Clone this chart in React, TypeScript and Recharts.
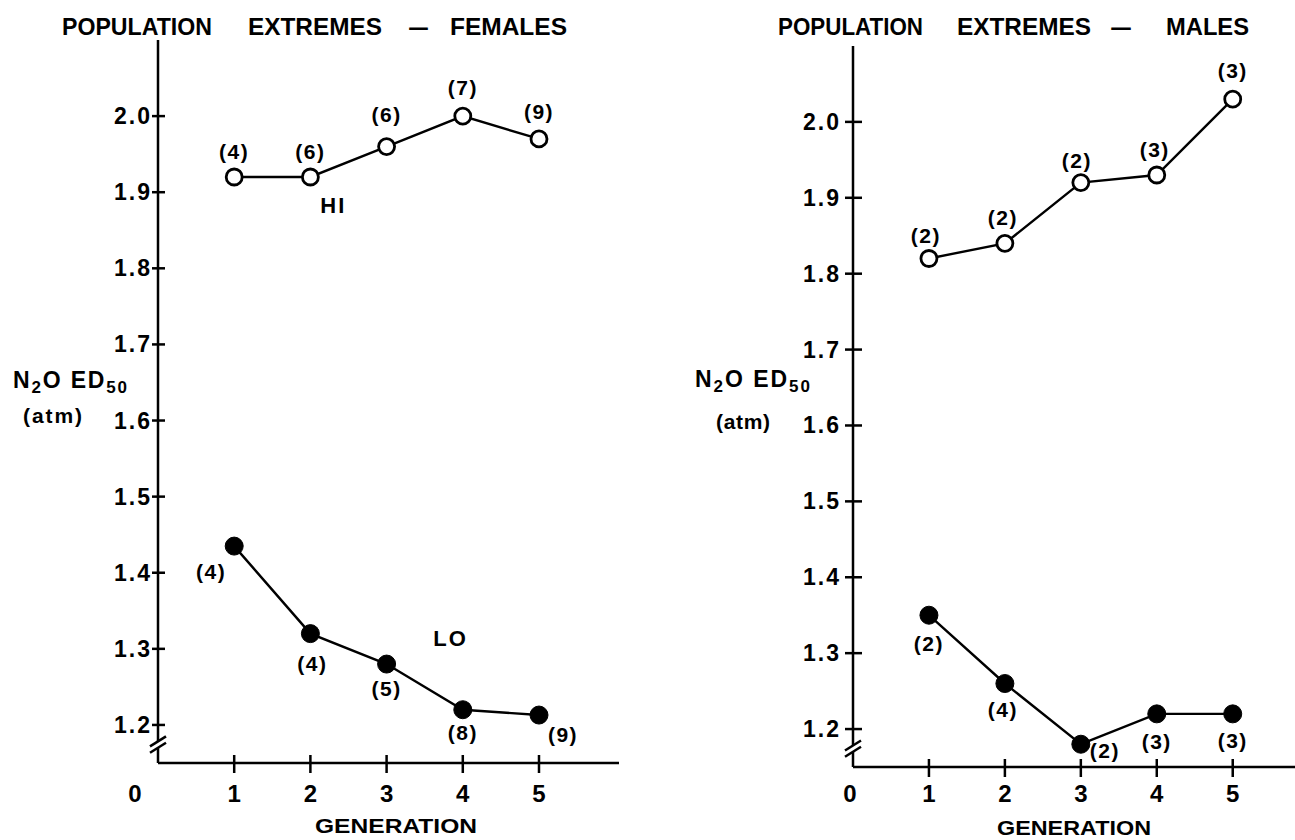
import React from 'react';
import { LineChart, Line, XAxis, YAxis, LabelList, ReferenceDot } from 'recharts';

// ---------- data ----------
const generations = [1, 2, 3, 4, 5];
const femaleHi = [1.92, 1.92, 1.96, 2.0, 1.97];
const femaleLo = [1.435, 1.32, 1.28, 1.22, 1.213];
const femaleHiN = [4, 6, 6, 7, 9];
const femaleLoN = [4, 4, 5, 8, 9];
const maleHi = [1.82, 1.84, 1.92, 1.93, 2.03];
const maleLo = [1.35, 1.26, 1.18, 1.22, 1.22];
const maleHiN = [2, 2, 2, 3, 3];
const maleLoN = [2, 4, 2, 3, 3];
const yTicks = [1.2, 1.3, 1.4, 1.5, 1.6, 1.7, 1.8, 1.9, 2.0];
const xTicks = [0, 1, 2, 3, 4, 5];
const AXIS_BREAK = 1.174;
const HI_LABEL = { x: 2.3, y: 1.882 };
const LO_LABEL = { x: 3.84, y: 1.3135 };

// ---------- style / layout ----------
const FONT = '"Liberation Sans", Arial, sans-serif';
const femaleHiOff = [[0, -25], [0, -25], [0, -32], [0, -29], [0, -27]];
const femaleLoOff = [[-23, 25], [2, 30], [0, 24], [0, 23], [24, 19]];
const maleHiOff = [[-3, -23], [-2, -26], [-4, -22], [-2, -26], [0, -29]];
const maleLoOff = [[0, 28], [-2, 26], [24, 6], [0, 28], [0, 27]];

const femaleRows = generations.map((g, i) => ({
  gen: g, hi: femaleHi[i], lo: femaleLo[i], hiN: femaleHiN[i], loN: femaleLoN[i],
}));
const maleRows = generations.map((g, i) => ({
  gen: g, hi: maleHi[i], lo: maleLo[i], hiN: maleHiN[i], loN: maleLoN[i],
}));

type Panel = {
  left: number; width: number; yAxisWidth: number; marginTop: number; marginRight: number;
  xAxisHeight: number; xMax: number; yLabelGap: number; yTickL: number; yTickR: number;
  xLabelDy: number; zeroDx: number;
};

const leftPanel: Panel = {
  left: 0, width: 650, yAxisWidth: 158, marginTop: 40, marginRight: 31, xAxisHeight: 77,
  xMax: 6.05, yLabelGap: 6, yTickL: 6, yTickR: 7, xLabelDy: 30, zeroDx: -23,
};
const rightPanel: Panel = {
  left: 645, width: 650, yAxisWidth: 208, marginTop: 46, marginRight: 0, xAxisHeight: 73,
  xMax: 5.82, yLabelGap: 12, yTickL: 8, yTickR: 9, xLabelDy: 26, zeroDx: -3,
};

const makeYTick = (p: Panel) => (props: any) => {
  const { x, y, payload } = props;
  if (payload.value === AXIS_BREAK) {
    return (
      <g>
        <polygon points={`${x - 8},${y + 1.7} ${x + 8},${y - 8.3} ${x + 8},${y - 2} ${x - 8},${y + 8}`} fill="#fff" />
        <line x1={x - 8} y1={y + 1.7} x2={x + 8} y2={y - 8.3} stroke="#000" strokeWidth={2.5} />
        <line x1={x - 8} y1={y + 8} x2={x + 8} y2={y - 2} stroke="#000" strokeWidth={2.5} />
      </g>
    );
  }
  return (
    <g>
      <line x1={x - p.yTickL} y1={y} x2={x + p.yTickR} y2={y} stroke="#000" strokeWidth={2.5} />
      <text x={x - p.yLabelGap} y={y} textAnchor="end" dominantBaseline="central"
        fontFamily={FONT} fontWeight="bold" fontSize={23} letterSpacing={2} fill="#000">
        {Number(payload.value).toFixed(1)}
      </text>
    </g>
  );
};

const makeXTick = (p: Panel) => (props: any) => {
  const { x, y, payload } = props;
  if (payload.value === 0) {
    return (
      <text x={x + p.zeroDx} y={y + p.xLabelDy} textAnchor="middle" dominantBaseline="central"
        fontFamily={FONT} fontWeight="bold" fontSize={24} fill="#000">0</text>
    );
  }
  return (
    <g>
      <line x1={x} y1={y - 8} x2={x} y2={y + 10} stroke="#000" strokeWidth={2.5} />
      <text x={x} y={y + p.xLabelDy} textAnchor="middle" dominantBaseline="central"
        fontFamily={FONT} fontWeight="bold" fontSize={24} fill="#000">{payload.value}</text>
    </g>
  );
};

const makeCount = (offs: number[][]) => (props: any) => {
  const { x, y, value, index } = props;
  const o = offs[index] || [0, 0];
  return (
    <text x={x + o[0]} y={y + o[1]} textAnchor="middle" dominantBaseline="central"
      fontFamily={FONT} fontWeight="bold" fontSize={21} letterSpacing={1.5} fill="#000">
      ({value})
    </text>
  );
};

const wordLabel = (text: string) => (props: any) => (
  <text x={props.cx} y={props.cy} textAnchor="middle" dominantBaseline="central"
    fontFamily={FONT} fontWeight="bold" fontSize={22} letterSpacing={2} fill="#000">{text}</text>
);

function PanelChart({ p, rows, hiOff, loOff, showHiLo }: { p: Panel; rows: any[]; hiOff: number[][]; loOff: number[][]; showHiLo: boolean }) {
  return (
    <div style={{ position: 'absolute', left: p.left, top: 0 }}>
      <LineChart width={p.width} height={840} data={rows}
        margin={{ top: p.marginTop, right: p.marginRight, bottom: 0, left: 0 }}>
        <XAxis type="number" dataKey="gen" domain={[0, p.xMax]} ticks={xTicks} interval={0}
          height={p.xAxisHeight} tickSize={0} tickMargin={0} tickLine={false}
          axisLine={{ stroke: '#000', strokeWidth: 2.5 }} tick={makeXTick(p)} allowDataOverflow />
        <YAxis type="number" domain={[1.15, 2.1]} ticks={[AXIS_BREAK, ...yTicks]} interval={0}
          width={p.yAxisWidth} tickSize={0} tickMargin={0} tickLine={false}
          axisLine={{ stroke: '#000', strokeWidth: 2.5 }} tick={makeYTick(p)} allowDataOverflow />
        <Line type="linear" dataKey="hi" stroke="#000" strokeWidth={2.4} isAnimationActive={false}
          dot={{ r: 8, fill: '#fff', stroke: '#000', strokeWidth: 2.8 }} activeDot={false}>
          <LabelList dataKey="hiN" content={makeCount(hiOff)} />
        </Line>
        <Line type="linear" dataKey="lo" stroke="#000" strokeWidth={2.4} isAnimationActive={false}
          dot={{ r: 9, fill: '#000', stroke: '#000', strokeWidth: 1 }} activeDot={false}>
          <LabelList dataKey="loN" content={makeCount(loOff)} />
        </Line>
        {showHiLo && <ReferenceDot x={HI_LABEL.x} y={HI_LABEL.y} r={0} shape={wordLabel('HI')} />}
        {showHiLo && <ReferenceDot x={LO_LABEL.x} y={LO_LABEL.y} r={0} shape={wordLabel('LO')} />}
      </LineChart>
    </div>
  );
}

const titleWords = [
  { t: 'POPULATION', x: 62, w: 150 }, { t: 'EXTREMES', x: 248, w: 134 },
  { t: '–', x: 408, w: 21 }, { t: 'FEMALES', x: 450, w: 117 },
  { t: 'POPULATION', x: 778, w: 145 }, { t: 'EXTREMES', x: 957, w: 134 },
  { t: '–', x: 1110, w: 22 }, { t: 'MALES', x: 1166, w: 83 },
];

export default function App() {
  const txt = { fontFamily: FONT, fontWeight: 'bold' as const, fill: '#000' };
  return (
    <div style={{ position: 'absolute', left: 0, top: 0, width: 1295, height: 840, overflow: 'hidden', background: '#fff' }}>
      <PanelChart p={leftPanel} rows={femaleRows} hiOff={femaleHiOff} loOff={femaleLoOff} showHiLo />
      <PanelChart p={rightPanel} rows={maleRows} hiOff={maleHiOff} loOff={maleLoOff} showHiLo={false} />
      <svg width={1295} height={840} style={{ position: 'absolute', left: 0, top: 0, pointerEvents: 'none' }}>
        {titleWords.map((w, i) => (
          <text key={i} x={w.x} y={35} fontSize={24} textLength={w.w} lengthAdjust="spacingAndGlyphs" {...txt}>{w.t}</text>
        ))}
        <text x={315} y={833} fontSize={21} textLength={162} lengthAdjust="spacingAndGlyphs" {...txt}>GENERATION</text>
        <text x={997} y={835} fontSize={20} textLength={154} lengthAdjust="spacingAndGlyphs" {...txt}>GENERATION</text>
        <text x={13} y={388} fontSize={23} textLength={114} lengthAdjust="spacing" {...txt}>
          N<tspan fontSize={17} dy={5}>2</tspan><tspan dy={-5}>O ED</tspan><tspan fontSize={17} dy={5}>50</tspan>
        </text>
        <text x={23} y={423} fontSize={21} textLength={59} lengthAdjust="spacing" {...txt}>(atm)</text>
        <text x={695} y={387} fontSize={23} textLength={115} lengthAdjust="spacing" {...txt}>
          N<tspan fontSize={17} dy={5}>2</tspan><tspan dy={-5}>O ED</tspan><tspan fontSize={17} dy={5}>50</tspan>
        </text>
        <text x={716} y={429} fontSize={21} textLength={54} lengthAdjust="spacing" {...txt}>(atm)</text>
      </svg>
    </div>
  );
}
